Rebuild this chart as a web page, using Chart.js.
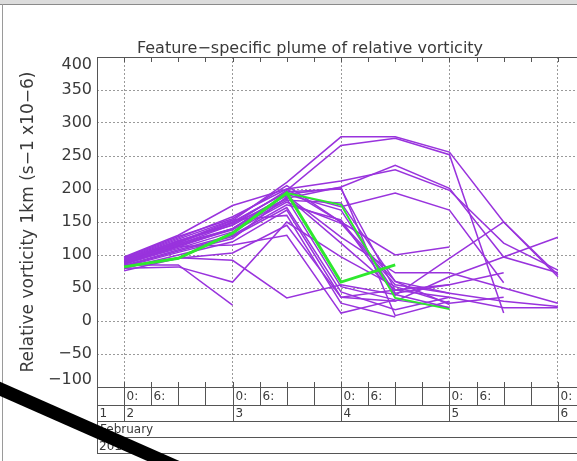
<!DOCTYPE html>
<html>
<head>
<meta charset="utf-8">
<title>Feature-specific plume of relative vorticity</title>
<script src="https://cdn.jsdelivr.net/npm/chart.js@4.4.1/dist/chart.umd.min.js"></script>
<style>
  html, body { margin: 0; padding: 0; background: #fff; overflow: hidden; }
  canvas { display: block; }
</style>
</head>
<body>
<canvas id="plumeChart" width="600" height="461"></canvas>
<script>
// forecast steps, days of February (12-hourly)
const steps = [2, 2.5, 3, 3.5, 4, 4.5, 5, 5.5, 6];

// ensemble members: relative vorticity 1km (s-1 x10-6) at each step
const members = [
  [92, 120, 152, 210, 279, 279, 256, 150, 70],
  [88, 116, 146, 198, 266, 277, 252, 12, null],
  [86, 112, 140, 186, 203, 236, 201, 97, 73],
  [95, 126, 158, 200, 212, 229, 198, 118, 77],
  [84, 108, 130, 176, 153, 39, 95, 150, 67],
  [90, 118, 150, 195, 173, 194, 168, 58, null],
  [80, 100, 120, 168, 36, 30, 67, 97, 127],
  [93, 122, 145, 190, 127, 73, 73, 50, 27],
  [87, 110, 135, 180, 148, 55, 42, 30, 22],
  [82, 104, 125, 188, 118, 47, 36, 20, 20],
  [96, 128, 155, 205, 150, 100, 112, null, null],
  [89, 115, 140, 192, 168, 42, 55, 73, null],
  [85, 85, 24, null, null, null, null, null, null],
  [80, 82, 59, 150, 97, 52, 27, 36, null],
  [91, 119, 148, 185, 52, 32, 20, null, null],
  [83, 106, 128, 172, 44, 17, 36, null, null],
  [94, 124, 153, 160, 27, 6, null, null, null],
  [86, 113, 115, 130, 12, 32, null, null, null],
  [81, 96, 92, 35, 55, 40, 20, null, null],
  [97, 130, 175, 200, 150, 60, 42, null, null],
  [90, 117, 140, 192, 202, 8, 30, null, null],
  [76, 95, 103, 145, 36, 47, null, null, null],
  [88, 114, 138, 183, 179, 60, 25, null, null],
  [92, 121, 149, 196, 200, 47, 55, null, null],
];

// the two green (control) tracks
const controlA = [82, 95, 133, 194, 59, 85, null, null, null];
const controlB = [82, 95, 133, 194, 176, 35, 18, null, null];

const xRange = [1.75, 6.25];
const yTicks = [-100, -50, 0, 50, 100, 150, 200, 250, 300, 350, 400];
const hourLabels = ["0:", "6:", "", ""];
const dayLabels = ["1", "2", "3", "4", "5", "6"];
const monthLabel = "February";
const yearLabel = "2014";
const chartTitle = "Feature\u2212specific plume of relative vorticity";
const yTitle = "Relative vorticity 1km (s\u22121 x10\u22126)";

const purple = "#9933dd";
const green = "#2ee82e";
const textColor = "#3a3a3a";

function toPoints(values) {
  return steps.map((d, i) => ({ x: d, y: values[i] }));
}

function fmt(v) {
  const s = v < 0 ? "\u2212" + Math.abs(v) : String(v);
  // end labels sit inside the frame, like the original
  if (v === yTicks[yTicks.length - 1]) return ["", s];
  if (v === yTicks[0]) return [s, ""];
  return s;
}

const datasets = [
  { data: toPoints(controlA), borderColor: green, borderWidth: 3 },
  { data: toPoints(controlB), borderColor: green, borderWidth: 2 },
].concat(members.map((m) => ({ data: toPoints(m), borderColor: purple, borderWidth: 1.5 })));

datasets.forEach((ds) => {
  ds.pointRadius = 0;
  ds.fill = false;
  ds.tension = 0;
  ds.spanGaps = false;
});

const frame = {
  id: "frame",
  beforeDraw(chart) {
    const ctx = chart.ctx;
    ctx.save();
    ctx.fillStyle = "#fff";
    ctx.fillRect(0, 0, chart.width, chart.height);
    ctx.restore();
  },
  afterDraw(chart) {
    const { ctx, chartArea: area } = chart;
    const x = chart.scales.x;
    const { left, right, top, bottom } = area;
    const rows = [bottom, bottom + 18, bottom + 34, bottom + 50, bottom + 66];
    const px = (v) => Math.round(x.getPixelForValue(v)) + 0.5;

    function line(x1, y1, x2, y2) {
      ctx.beginPath();
      ctx.moveTo(x1, y1);
      ctx.lineTo(x2, y2);
      ctx.stroke();
    }

    ctx.save();
    ctx.lineWidth = 1;
    ctx.strokeStyle = "#555";
    line(left, Math.round(top) + 0.5, right, Math.round(top) + 0.5);
    rows.forEach((r) => line(left, Math.round(r) + 0.5, right, Math.round(r) + 0.5));
    line(Math.round(left) + 0.5, top, Math.round(left) + 0.5, rows[4]);

    ctx.fillStyle = textColor;
    ctx.font = "12px 'DejaVu Sans'";
    ctx.textAlign = "left";
    ctx.textBaseline = "middle";

    // 6-hourly ticks on top and in the hour row
    for (let q = Math.ceil(x.min * 4); q <= x.max * 4; q++) {
      const p = px(q / 4);
      line(p, top, p, top + 5);
      line(p, bottom - 5, p, rows[1]);
      const lab = hourLabels[q % 4];
      if (lab) ctx.fillText(lab, p + 2, rows[0] + 10);
    }

    // day row
    dayLabels.forEach((d) => {
      const day = Number(d);
      let p = Math.round(left) + 0.5;
      if (day >= x.min) {
        p = px(day);
        line(p, rows[1], p, rows[2]);
      }
      ctx.fillText(d, p + 2, rows[1] + 9);
    });
    ctx.fillText(monthLabel, left + 3, rows[2] + 9);
    ctx.fillText(yearLabel, left + 2, rows[3] + 10);

    // title
    ctx.font = "16px 'DejaVu Sans'";
    ctx.textAlign = "center";
    ctx.textBaseline = "alphabetic";
    ctx.fillText(chartTitle, 310, 53);

    // window edge
    ctx.fillStyle = "#dcdcdc";
    ctx.fillRect(0, 0, chart.width, 4);
    ctx.strokeStyle = "#8a8a8a";
    line(0, 4.5, chart.width, 4.5);
    ctx.strokeStyle = "#9a9a9a";
    line(2.5, 4, 2.5, chart.height);

    // black stroke across the lower left corner
    ctx.strokeStyle = "#000";
    ctx.lineWidth = 13;
    line(-20, 380, 220, 486);
    ctx.restore();
  },
};

const ctx = document.getElementById("plumeChart").getContext("2d");

new Chart(ctx, {
  type: "line",
  data: { datasets: datasets },
  plugins: [frame],
  options: {
    responsive: false,
    animation: false,
    events: [],
    layout: { padding: { top: 57, bottom: 74, left: 0, right: 15 } },
    plugins: {
      legend: { display: false },
      tooltip: { enabled: false },
      title: { display: false },
    },
    scales: {
      x: {
        type: "linear",
        min: xRange[0],
        max: xRange[1],
        afterBuildTicks: (scale) => {
          scale.ticks = dayLabels.map(Number).filter((d) => d >= xRange[0]).map((d) => ({ value: d }));
        },
        afterFit: (scale) => {
          scale.height = 0;
        },
        ticks: { display: false },
        grid: { color: "#9a9a9a", lineWidth: 1, drawTicks: false },
        border: { display: false, dash: [2, 2] },
      },
      y: {
        min: yTicks[0],
        max: yTicks[yTicks.length - 1],
        afterBuildTicks: (scale) => {
          scale.ticks = yTicks.map((v) => ({ value: v }));
        },
        afterFit: (scale) => {
          scale.width = 97;
        },
        ticks: {
          autoSkip: false,
          padding: 5,
          color: textColor,
          font: { family: "'DejaVu Sans'", size: 16, lineHeight: 0.95 },
          callback: (v) => fmt(v),
        },
        grid: { color: "#9a9a9a", lineWidth: 1, drawTicks: false },
        border: { display: false, dash: [2, 2] },
        title: {
          display: true,
          text: yTitle,
          color: textColor,
          font: { family: "'DejaVu Sans'", size: 17 },
          padding: { top: 18, bottom: 0 },
        },
      },
    },
  },
});
</script>
</body>
</html>
